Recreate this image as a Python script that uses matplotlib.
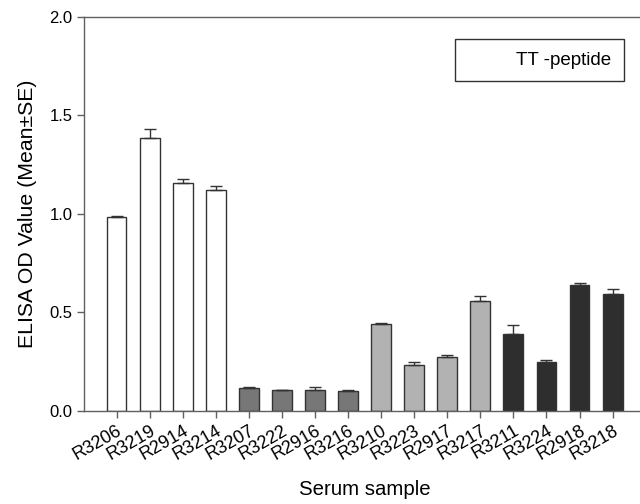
import matplotlib
matplotlib.use("Agg")
import matplotlib.pyplot as plt
from matplotlib.patches import Patch

samples = ["R3206", "R3219", "R2914", "R3214", "R3207", "R3222", "R2916", "R3216",
           "R3210", "R3223", "R2917", "R3217", "R3211", "R3224", "R2918", "R3218"]
means = [0.985, 1.384, 1.159, 1.122, 0.118, 0.105, 0.108, 0.100,
         0.442, 0.235, 0.274, 0.558, 0.391, 0.250, 0.640, 0.594]
errors = [0.003, 0.045, 0.016, 0.018, 0.003, 0.002, 0.015, 0.005,
          0.002, 0.012, 0.010, 0.024, 0.044, 0.010, 0.008, 0.026]
group_colors = ["#ffffff", "#777777", "#b2b2b2", "#2e2e2e"]
group_sizes = [4, 4, 4, 4]
yticks = [0.0, 0.5, 1.0, 1.5, 2.0]
legend_label = "TT -peptide"

plt.rcParams['font.family'] = ['Liberation Sans', 'DejaVu Sans']

colors = []
for c, n in zip(group_colors, group_sizes):
    colors += [c] * n

fig = plt.figure(figsize=(6.4, 5.04), dpi=100)
ax = fig.add_axes([83.5/640, 93/504, (645.7-83.5)/640, (487.3-93)/504])

x = list(range(len(samples)))
ax.bar(x, means, width=0.6, color=colors, edgecolor="#333333", linewidth=1.0, zorder=2)
ax.errorbar(x, means, yerr=[[0]*len(errors), errors], fmt="none", ecolor="#333333",
            elinewidth=1.0, capsize=4, capthick=1.0, zorder=3)

ax.set_xlim(-1, 16)
ax.set_ylim(0, 2.0)
ax.set_yticks(yticks)
ax.set_yticklabels([f"{v:.1f}" for v in yticks], fontsize=12)
ax.set_xticks(x)
ax.set_xticklabels(samples, rotation=30, ha="right", rotation_mode="anchor", fontsize=13)

for s in ["left", "top", "bottom"]:
    ax.spines[s].set_color("#606060")
    ax.spines[s].set_linewidth(1.0)
ax.spines["right"].set_visible(False)
ax.tick_params(axis="both", direction="out", length=5, width=1, color="#606060", pad=3)

ax.set_ylabel("ELISA OD Value (Mean±SE)", fontsize=15.3, labelpad=9)
ax.set_xlabel("Serum sample", fontsize=14.7, labelpad=12)

handle = Patch(facecolor="white", edgecolor="none")
leg = ax.legend([handle], [legend_label], loc="upper right",
                bbox_to_anchor=(623.7/640, (504-39.3)/504), bbox_transform=fig.transFigure,
                fancybox=False, frameon=True, edgecolor="black", fontsize=13.5,
                handlelength=2.1, borderpad=0.65, handletextpad=0.5, borderaxespad=0)
leg.get_frame().set_linewidth(1.0)

fig.savefig("out.png", dpi=100)
